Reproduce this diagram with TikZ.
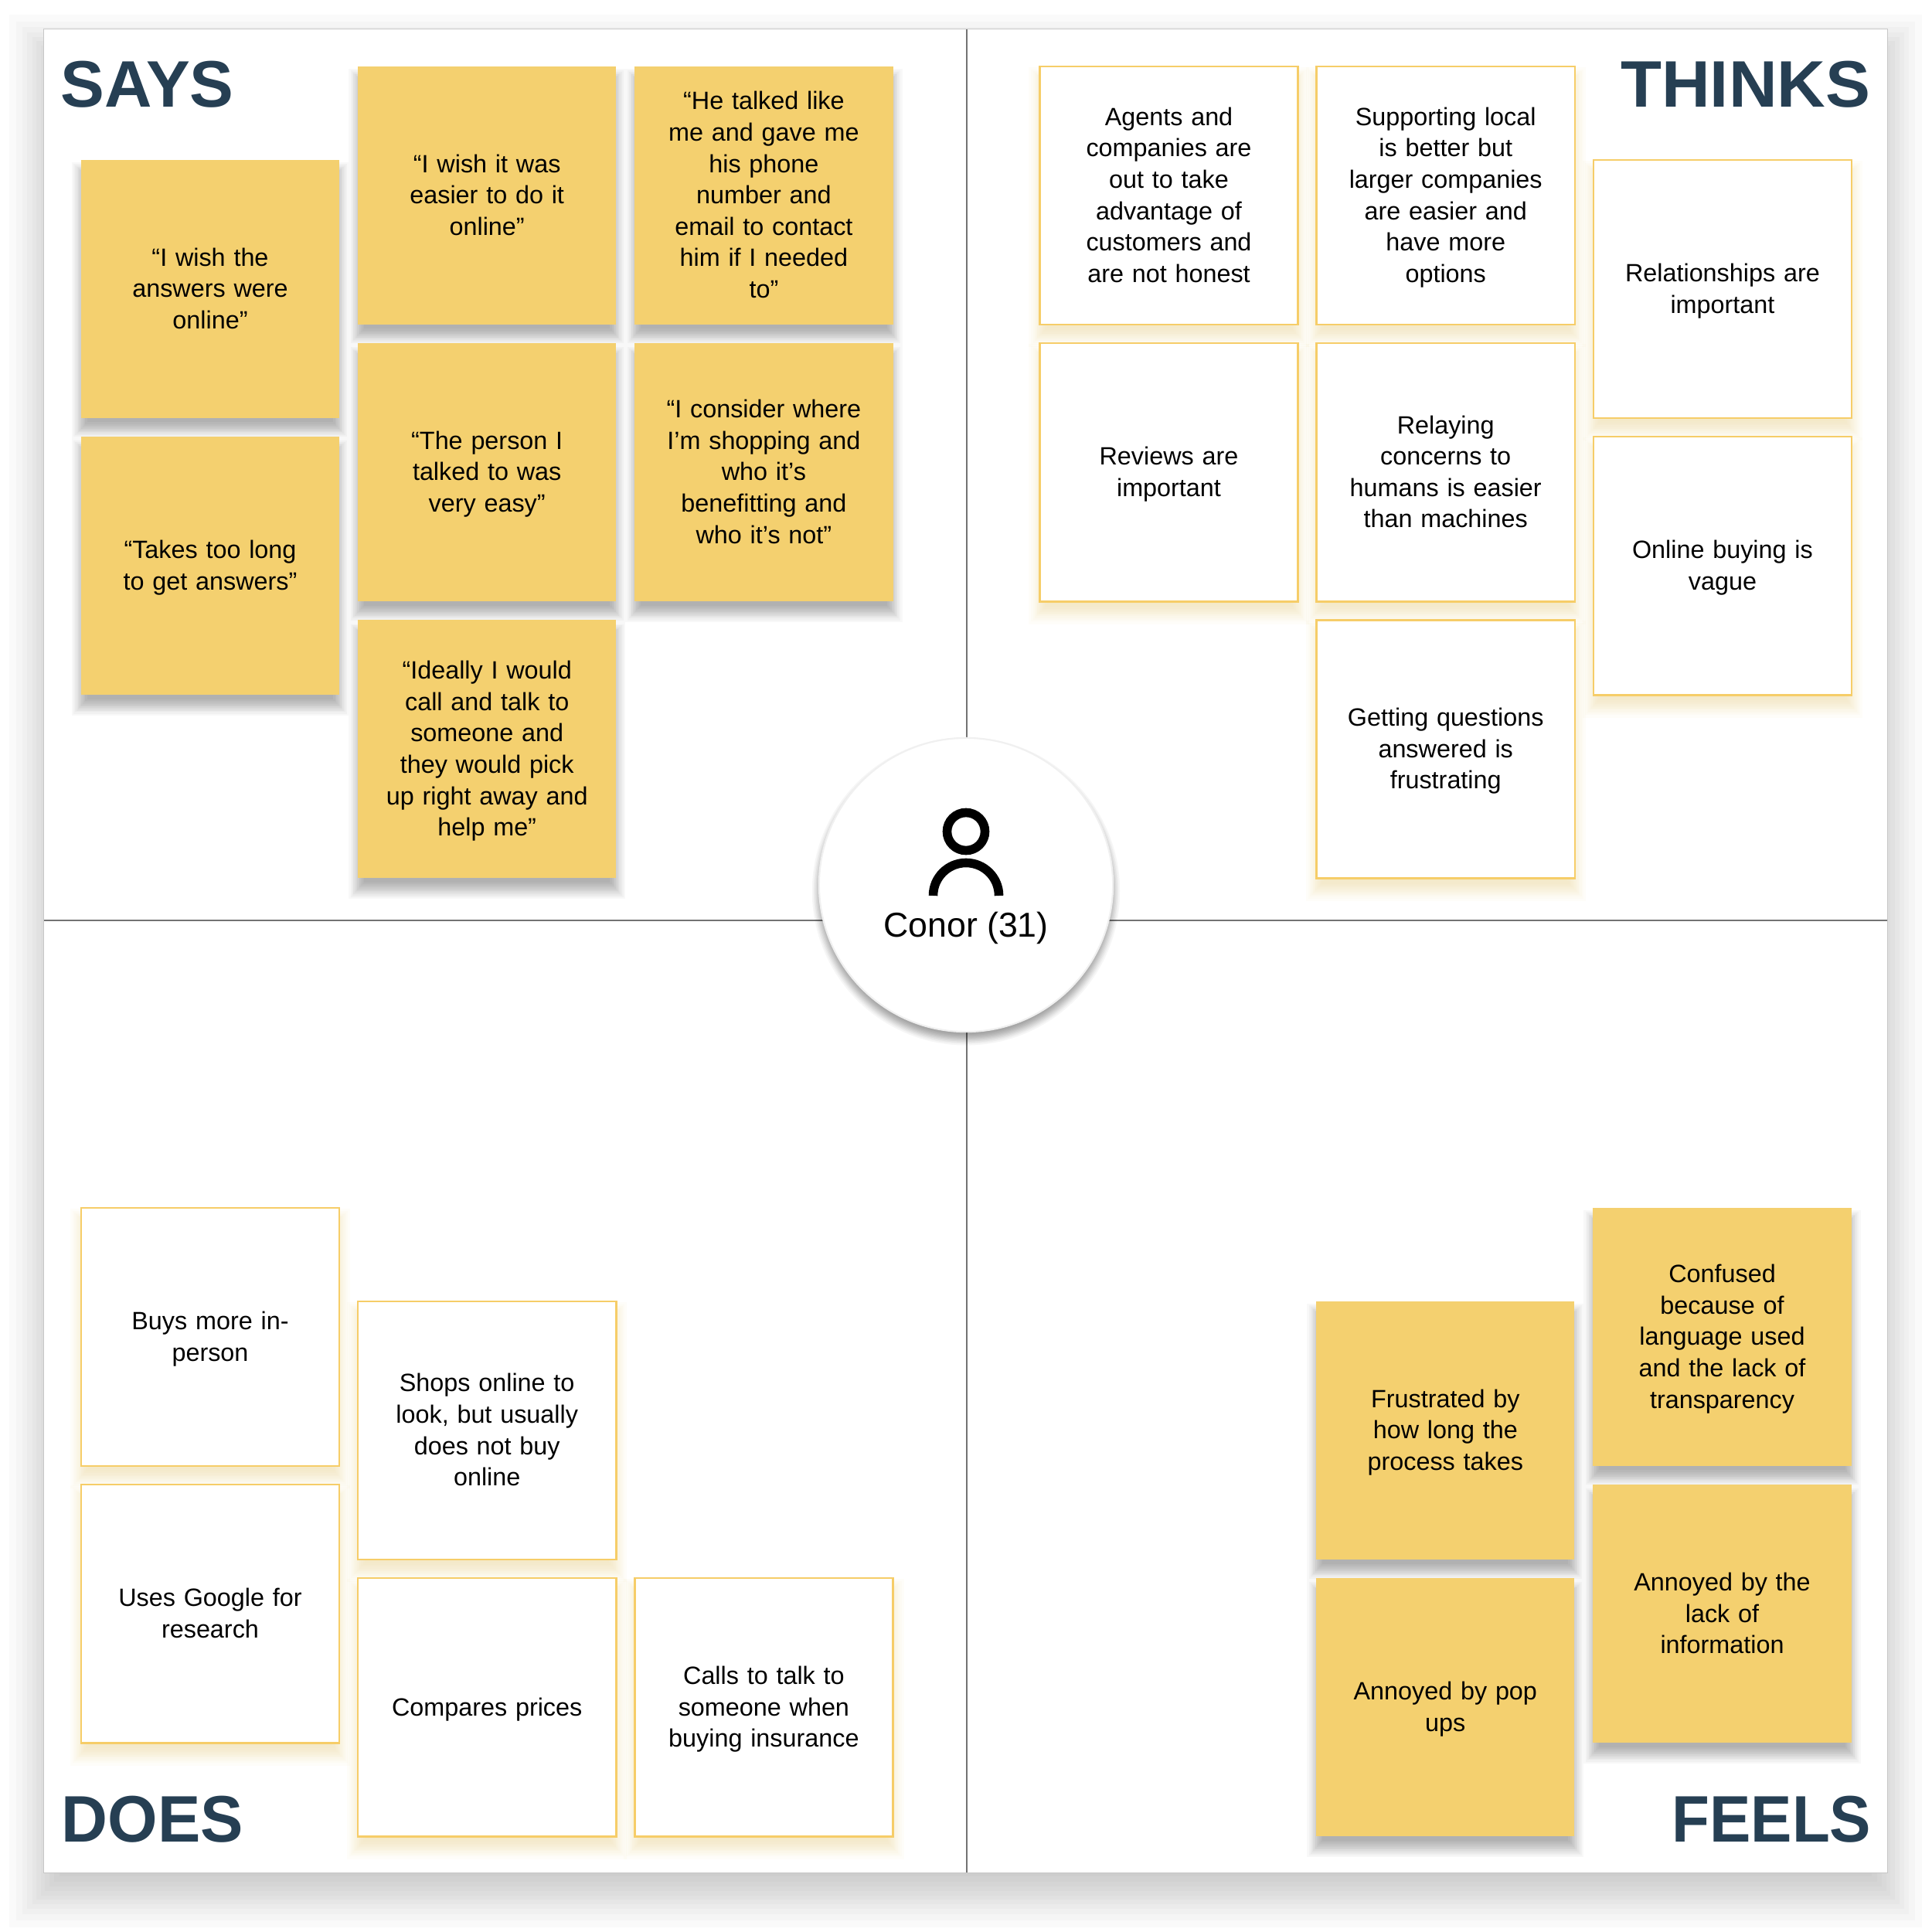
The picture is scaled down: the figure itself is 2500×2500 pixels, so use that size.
\documentclass[tikz,border=0pt]{standalone}
\usepackage{fontspec}
\setmainfont{Liberation Sans}
\usetikzlibrary{positioning, shadows}
\definecolor{noteyellow}{HTML}{F4D06F}
\definecolor{noteedge}{HTML}{F6CD68}
\definecolor{titlenavy}{HTML}{263F53}
\tikzset{
  softlayer/.style n args={4}{general shadow={fill=#1, opacity=#2, shadow xshift=0pt, shadow yshift=#3, shadow scale=#4}},
  softshadow/.style n args={4}{
    softlayer={#1}{#2}{#3}{1+#4*1.2}, softlayer={#1}{#2}{#3}{1+#4*0.95},
    softlayer={#1}{#2}{#3}{1+#4*0.75}, softlayer={#1}{#2}{#3}{1+#4*0.57},
    softlayer={#1}{#2}{#3}{1+#4*0.4}, softlayer={#1}{#2}{#3}{1+#4*0.25},
    softlayer={#1}{#2}{#3}{1+#4*0.1}, softlayer={#1}{#2}{#3}{1-#4*0.05},
    softlayer={#1}{#2}{#3}{1-#4*0.2}, softlayer={#1}{#2}{#3}{1-#4*0.37},
    softlayer={#1}{#2}{#3}{1-#4*0.55}, softlayer={#1}{#2}{#3}{1-#4*0.8}}
}
\tikzstyle{note} = [rectangle, minimum width=3.34cm, minimum height=3.34cm, outer sep=0pt,
    text width=3.3cm, align=center, inner sep=0pt, font=\fontsize{9.2}{11.55}\selectfont,
    execute at begin node=\rule{0pt}{9.6pt}, execute at end node=\strut]
\tikzstyle{sticky} = [note, fill=noteyellow, softshadow={black}{0.026}{-0.14cm}{0.06}]
\tikzstyle{hollow} = [note, draw=noteedge, line width=0.7pt, fill=white, softshadow={noteyellow}{0.035}{-0.14cm}{0.07}]
\tikzstyle{corner} = [font=\bfseries\fontsize{24.2}{28}\selectfont, text=titlenavy, inner sep=0pt]
\tikzstyle{crossline} = [draw=black!55, line width=0.55pt]

\begin{document}
\begin{tikzpicture}[x=0.01cm, y=0.01cm, node distance=0.24cm and 0.24cm]
\useasboundingbox (0,0) rectangle (2500,-2500);
\node (board) [rectangle, minimum width=23.85cm, minimum height=23.85cm, outer sep=0pt, draw=black!22, line width=0.4pt,
    fill=white, softshadow={black}{0.02}{-0.25cm}{0.031}] at (1249.5,-1230.5) {};

\coordinate (vtop) at (1251,-38);
\coordinate (vbottom) at (1251,-2423);
\coordinate (hleft) at (57,-1191);
\coordinate (hright) at (2442,-1191);
\draw[crossline] (vtop) -- (vbottom);
\draw[crossline] (hleft) -- (hright);

\node (says) [corner, anchor=base west] at (78,-139) {SAYS};
\node (thinks) [corner, anchor=base east] at (2421,-139) {\addfontfeature{FakeStretch=1.02}THINKS};
\node (does) [corner, anchor=base west] at (79,-2383) {\addfontfeature{FakeStretch=0.975}DOES};
\node (feels) [corner, anchor=base east] at (2422,-2383) {\addfontfeature{FakeStretch=0.94}FEELS};

% says
\node (wishanswers) [sticky] at (272,-374) {“I wish the\\answers were\\online”};
\node (takeslong) [sticky, below=of wishanswers] {“Takes too long\\to get answers”};
\node (wisheasier) [sticky, right=of wishanswers, yshift=1.21cm] {“I wish it was\\easier to do it\\online”};
\node (hetalked) [sticky, right=of wisheasier] {“He talked like\\me and gave me\\his phone\\number and\\email to contact\\him if I needed\\to”};
\node (easytalk) [sticky, below=of wisheasier] {“The person I\\talked to was\\very easy”};
\node (consider) [sticky, below=of hetalked] {“I consider where\\I’m shopping and\\who it’s\\benefitting and\\who it’s not”};
\node (ideally) [sticky, below=of easytalk] {“Ideally I would\\call and talk to\\someone and\\they would pick\\up right away and\\help me”};

% thinks
\node (agents) [hollow] at (1512.5,-253) {Agents and\\companies are\\out to take\\advantage of\\customers and\\are not honest};
\node (supporting) [hollow, right=of agents] {Supporting local\\is better but\\larger companies\\are easier and\\have more\\options};
\node (reviews) [hollow, below=of agents] {Reviews are\\important};
\node (relaying) [hollow, below=of supporting] {Relaying\\concerns to\\humans is easier\\than machines};
\node (questions) [hollow, below=of relaying] {Getting questions\\answered is\\frustrating};
\node (relationships) [hollow, right=of supporting, yshift=-1.21cm] {Relationships are\\important};
\node (vague) [hollow, below=of relationships] {Online buying is\\vague};

% does
\node (buys) [hollow] at (272,-1730) {Buys more in-\\person};
\node (google) [hollow, below=of buys] {Uses Google for\\research};
\node (shops) [hollow, right=of buys, yshift=-1.21cm] {Shops online to\\look, but usually\\does not buy\\online};
\node (compares) [hollow, below=of shops] {Compares prices};
\node (calls) [hollow, right=of compares] {Calls to talk to\\someone when\\buying insurance};

% feels
\node (confused) [sticky] at (2228.5,-1730) {Confused\\because of\\language used\\and the lack of\\transparency};
\node (lackinfo) [sticky, below=of confused] {Annoyed by the\\lack of\\information};
\node (frustrated) [sticky, left=of confused, yshift=-1.21cm] {Frustrated by\\how long the\\process takes};
\node (popups) [sticky, below=of frustrated] {Annoyed by pop\\ups};

% persona
\node (persona) [circle, minimum size=3.8cm, outer sep=0pt, draw=black!6, line width=0.6pt, fill=white,
    softshadow={black}{0.035}{-0.08cm}{0.04}] at (1250,-1145) {};
\draw[black, line width=3.3pt] (1250,-1076) circle[radius=0.245cm];
\draw[black, line width=3.3pt] (1207.5,-1159) arc[start angle=180, end angle=0, radius=0.425cm];
\node (conor) [font=\fontsize{12.7}{15}\selectfont, inner sep=0pt, anchor=base] at (1250,-1212) {Conor (31)};
\end{tikzpicture}
\end{document}
